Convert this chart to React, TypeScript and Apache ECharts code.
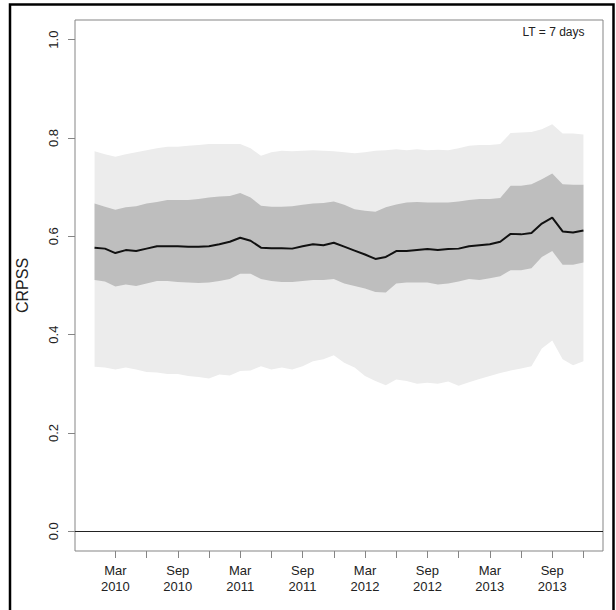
import React, { useEffect, useRef } from "react";
import * as echarts from "echarts";

// Monthly verification dates (x = months since Jan 2010)
const months = [
  "2010-01", "2010-02", "2010-03", "2010-04", "2010-05", "2010-06", "2010-07", "2010-08", "2010-09", "2010-10", "2010-11", "2010-12",
  "2011-01", "2011-02", "2011-03", "2011-04", "2011-05", "2011-06", "2011-07", "2011-08", "2011-09", "2011-10", "2011-11", "2011-12",
  "2012-01", "2012-02", "2012-03", "2012-04", "2012-05", "2012-06", "2012-07", "2012-08", "2012-09", "2012-10", "2012-11", "2012-12",
  "2013-01", "2013-02", "2013-03", "2013-04", "2013-05", "2013-06", "2013-07", "2013-08", "2013-09", "2013-10", "2013-11", "2013-12",
];

const median = [
  0.577, 0.575, 0.566, 0.572, 0.570, 0.575, 0.580, 0.580, 0.580, 0.579, 0.579, 0.580,
  0.584, 0.589, 0.597, 0.591, 0.577, 0.576, 0.576, 0.575, 0.580, 0.584, 0.582, 0.587,
  0.579, 0.571, 0.563, 0.554, 0.558, 0.570, 0.570, 0.572, 0.574, 0.572, 0.574, 0.575,
  0.580, 0.582, 0.584, 0.589, 0.605, 0.604, 0.607, 0.626, 0.638, 0.610, 0.608, 0.612,
];

const innerHigh = [
  0.667, 0.660, 0.654, 0.659, 0.661, 0.667, 0.670, 0.674, 0.674, 0.674, 0.676, 0.679,
  0.681, 0.682, 0.688, 0.679, 0.662, 0.660, 0.660, 0.661, 0.664, 0.667, 0.668, 0.671,
  0.664, 0.655, 0.652, 0.650, 0.659, 0.665, 0.669, 0.670, 0.669, 0.669, 0.669, 0.671,
  0.674, 0.676, 0.676, 0.678, 0.703, 0.703, 0.706, 0.716, 0.728, 0.706, 0.705, 0.705,
];

const innerLow = [
  0.511, 0.508, 0.498, 0.502, 0.499, 0.504, 0.509, 0.509, 0.507, 0.506, 0.505, 0.506,
  0.509, 0.513, 0.524, 0.524, 0.513, 0.509, 0.507, 0.507, 0.509, 0.511, 0.511, 0.513,
  0.504, 0.499, 0.494, 0.487, 0.486, 0.504, 0.506, 0.506, 0.506, 0.502, 0.504, 0.508,
  0.513, 0.511, 0.515, 0.519, 0.531, 0.531, 0.535, 0.558, 0.570, 0.542, 0.542, 0.547,
];

const outerHigh = [
  0.773, 0.767, 0.762, 0.767, 0.771, 0.775, 0.779, 0.782, 0.782, 0.784, 0.786, 0.788,
  0.788, 0.788, 0.788, 0.779, 0.764, 0.771, 0.774, 0.773, 0.774, 0.775, 0.774, 0.773,
  0.771, 0.769, 0.771, 0.774, 0.775, 0.777, 0.775, 0.777, 0.775, 0.776, 0.775, 0.779,
  0.784, 0.786, 0.786, 0.788, 0.810, 0.811, 0.812, 0.818, 0.828, 0.809, 0.809, 0.807,
];

const outerLow = [
  0.335, 0.333, 0.329, 0.333, 0.329, 0.324, 0.323, 0.320, 0.320, 0.316, 0.314, 0.311,
  0.319, 0.317, 0.326, 0.327, 0.336, 0.329, 0.333, 0.329, 0.336, 0.346, 0.350, 0.358,
  0.343, 0.333, 0.316, 0.306, 0.297, 0.309, 0.306, 0.300, 0.302, 0.300, 0.305, 0.296,
  0.303, 0.310, 0.316, 0.322, 0.327, 0.331, 0.336, 0.372, 0.388, 0.350, 0.338, 0.346,
];

// Axis ticks (months since Jan 2010) and labels
const xTickValues = [2, 5, 8, 11, 14, 17, 20, 23, 26, 29, 32, 35, 38, 41, 44, 47];
const xLabelValues = [2, 8, 14, 20, 26, 32, 38, 44];
const xLabelTexts = ["Mar\n2010", "Sep\n2010", "Mar\n2011", "Sep\n2011", "Mar\n2012", "Sep\n2012", "Mar\n2013", "Sep\n2013"];
const yTickValues = [0, 0.2, 0.4, 0.6, 0.8, 1.0];

const FONT = "'Liberation Sans', Arial, Helvetica, sans-serif";

function monthIdx(s: string): number {
  const [y, m] = s.split("-").map(Number);
  return (y - 2010) * 12 + (m - 1);
}

export default function App() {
  const ref = useRef<HTMLDivElement>(null);

  useEffect(() => {
    if (!ref.current) return;
    const chart = echarts.init(ref.current, null, { renderer: "svg" });
    const xs = months.map(monthIdx);
    const pairs = (arr: number[]) => arr.map((v, i) => [xs[i], v]);

    const n = xs.length;
    const pad = (xs[n - 1] - xs[0]) * 0.04;

    const bandSeries = (lo: number[], hi: number[], color: string, z: number) => ({
      type: "custom",
      silent: true,
      z,
      data: [[xs[0], lo[0], hi[0]]],
      encode: { x: 0, y: [1, 2] },
      renderItem: (_params: any, api: any) => {
        const points: number[][] = [];
        for (let i = 0; i < n; i++) points.push(api.coord([xs[i], hi[i]]));
        for (let i = n - 1; i >= 0; i--) points.push(api.coord([xs[i], lo[i]]));
        return {
          type: "polygon",
          shape: { points },
          style: { fill: color, stroke: null },
        };
      },
    });

    chart.setOption({
      animation: false,
      backgroundColor: "#ffffff",
      grid: {
        left: 75,
        top: 20,
        right: 13,
        bottom: 59,
        show: true,
        borderColor: "#858585",
        borderWidth: 1,
        backgroundColor: "transparent",
      },
      xAxis: {
        type: "value",
        min: xs[0] - pad,
        max: xs[n - 1] + pad,
        axisLine: { show: false, onZero: false },
        splitLine: { show: false },
        axisTick: {
          show: true,
          inside: false,
          length: 7,
          customValues: xTickValues,
          lineStyle: { color: "#858585", width: 1 },
        },
        axisLabel: {
          customValues: xLabelValues,
          formatter: (v: number) => {
            const k = xLabelValues.indexOf(Math.round(v));
            return k >= 0 ? xLabelTexts[k] : "";
          },
          color: "#222",
          fontFamily: FONT,
          fontSize: 13,
          lineHeight: 16,
          margin: 11,
        },
      },
      yAxis: {
        type: "value",
        min: -0.04,
        max: 1.04,
        name: "CRPSS",
        nameLocation: "middle",
        nameRotate: 90,
        nameGap: 45,
        nameTextStyle: { color: "#222", fontFamily: FONT, fontSize: 16 },
        axisLine: { show: false, onZero: false },
        splitLine: { show: false },
        axisTick: {
          show: true,
          inside: false,
          length: 7,
          customValues: yTickValues,
          lineStyle: { color: "#858585", width: 1 },
        },
        axisLabel: {
          customValues: yTickValues,
          rotate: 90,
          formatter: (v: number) => v.toFixed(1),
          color: "#222",
          fontFamily: FONT,
          fontSize: 13,
          margin: 15,
        },
      },
      series: [
        bandSeries(outerLow, outerHigh, "#ececec", 1),
        bandSeries(innerLow, innerHigh, "#bebebe", 2),
        {
          type: "line",
          name: "median",
          data: pairs(median),
          symbol: "none",
          silent: true,
          lineStyle: { color: "#111", width: 2 },
          z: 3,
          markLine: {
            silent: true,
            symbol: "none",
            label: { show: false },
            lineStyle: { color: "#222", width: 1, type: "solid" },
            data: [{ yAxis: 0 }],
          },
        },
      ],
      graphic: [
        {
          type: "rect",
          shape: { x: 10, y: 4.5, width: 603.5, height: 620 },
          style: { fill: "none", stroke: "#000", lineWidth: 2.5 },
          silent: true,
          z: 10,
        },
        {
          type: "text",
          x: 584.5,
          y: 32,
          style: {
            text: "LT = 7 days",
            fill: "#222",
            font: `12px ${FONT}`,
            textAlign: "right",
            textVerticalAlign: "middle",
          },
          silent: true,
          z: 10,
        },
      ],
    });

    return () => chart.dispose();
  }, []);

  return (
    <div
      ref={ref}
      style={{ position: "absolute", left: 0, top: 0, width: 616, height: 610 }}
    />
  );
}
